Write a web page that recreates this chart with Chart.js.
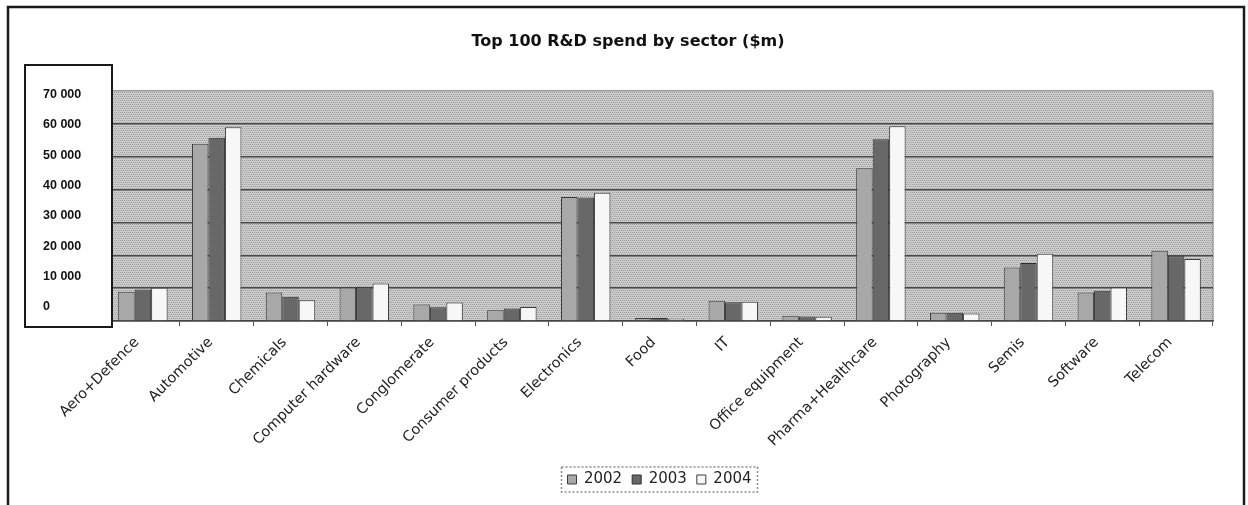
<!DOCTYPE html>
<html>
<head>
<meta charset="utf-8">
<title>Top 100 R&amp;D spend by sector</title>
<script src="https://cdn.jsdelivr.net/npm/chart.js"></script>
<style>
  html, body { margin: 0; padding: 0; background: #fff; }
  canvas { display: block; }
</style>
</head>
<body>
<canvas id="bar-chart" width="1248" height="505"></canvas>
<script>
// sectors and yearly R&D spend, $m
var sectors = ["Aero+Defence", "Automotive", "Chemicals", "Computer hardware", "Conglomerate",
  "Consumer products", "Electronics", "Food", "IT", "Office equipment", "Pharma+Healthcare",
  "Photography", "Semis", "Software", "Telecom"];
var years = ["2002", "2003", "2004"];
var spend2002 = [8900, 54000, 8700, 10200, 5000, 3300, 37800, 900, 6200, 1600, 46500, 2500, 16300, 8700, 21400];
var spend2003 = [9600, 55800, 7400, 10400, 4200, 3800, 37600, 900, 5700, 1400, 55400, 2500, 17700, 9200, 19700];
var spend2004 = [10100, 59000, 6300, 11400, 5600, 4300, 39100, 700, 5900, 1300, 59300, 2300, 20500, 10200, 18900];
var yTicks = [0, 10000, 20000, 30000, 40000, 50000, 60000, 70000];
var yTickLabels = ["0", "10 000", "20 000", "30 000", "40 000", "50 000", "60 000", "70 000"];

// dotted grey fill for the plot area
function dotPattern(ctx) {
  var c = document.createElement("canvas");
  c.width = 4; c.height = 4;
  var p = c.getContext("2d");
  p.fillStyle = "#cbcbcb";
  p.fillRect(0, 0, 4, 4);
  p.fillStyle = "#9e9e9e";
  p.fillRect(0, 0, 1, 1); p.fillRect(2, 0, 1, 1);
  p.fillRect(1, 2, 1, 1); p.fillRect(3, 2, 1, 1);
  return ctx.createPattern(c, "repeat");
}

var decor = {
  id: "decor",
  beforeDraw: function(chart) {
    var ctx = chart.ctx, a = chart.chartArea;
    ctx.save();
    ctx.fillStyle = "#fff";
    ctx.fillRect(0, 0, chart.width, chart.height);
    ctx.fillStyle = dotPattern(ctx);
    ctx.fillRect(a.left, a.top, a.right - a.left, a.bottom - a.top);
    ctx.strokeStyle = "#9a9a9a";
    ctx.lineWidth = 1.5;
    ctx.beginPath();
    ctx.moveTo(a.right, a.top);
    ctx.lineTo(a.right, a.bottom);
    ctx.stroke();
    ctx.restore();
  },
  afterDatasetsDraw: function(chart) {
    // white panel holding the value labels
    var ctx = chart.ctx;
    ctx.save();
    ctx.fillStyle = "#fff";
    ctx.fillRect(25, 65, 87, 262);
    ctx.strokeStyle = "#1a1a1a";
    ctx.lineWidth = 2;
    ctx.strokeRect(25, 65, 87, 262);
    ctx.restore();
  },
  afterDraw: function(chart) {
    var ctx = chart.ctx;
    ctx.save();
    // outer frame
    ctx.strokeStyle = "#1a1a1a";
    ctx.lineWidth = 2.5;
    ctx.strokeRect(8, 7, 1236, 520);
    // dashed legend border
    var hb = chart.legend.legendHitBoxes;
    if (hb && hb.length) {
      var first = hb[0], last = hb[hb.length - 1];
      var cy = first.top + first.height / 2;
      ctx.setLineDash([2, 2]);
      ctx.strokeStyle = "#8a8a8a";
      ctx.lineWidth = 1.5;
      ctx.strokeRect(first.left - 6, cy - 12.5, last.left + last.width - first.left + 12, 25);
    }
    ctx.restore();
  }
};

new Chart(document.getElementById("bar-chart"), {
  type: "bar",
  data: {
    labels: sectors,
    datasets: [
      { label: years[0], data: spend2002, backgroundColor: "#a8a8a8", borderColor: "#3c3c3c", borderWidth: 1 },
      { label: years[1], data: spend2003, backgroundColor: "#686868", borderColor: "#2e2e2e", borderWidth: 1 },
      { label: years[2], data: spend2004, backgroundColor: "#f7f7f7", borderColor: "#3c3c3c", borderWidth: 1 }
    ]
  },
  plugins: [decor],
  options: {
    responsive: false,
    animation: false,
    layout: { padding: { top: 0, left: 43, right: 35, bottom: 8 } },
    datasets: { bar: { categoryPercentage: 0.67, barPercentage: 1.0 } },
    plugins: {
      title: {
        display: true,
        text: "Top 100 R&D spend by sector ($m)",
        color: "#111",
        font: { family: "DejaVu Sans", size: 16, weight: "bold" },
        padding: { top: 32, bottom: 40 }
      },
      legend: {
        position: "bottom",
        fullSize: false,
        labels: {
          boxWidth: 9, boxHeight: 9, padding: 10, color: "#222",
          font: { family: "DejaVu Sans", size: 15 }
        }
      },
      tooltip: { enabled: false }
    },
    scales: {
      x: {
        grid: { drawOnChartArea: false, drawTicks: true, tickLength: 5, color: "#555", offset: true },
        border: { color: "#444", width: 1.5 },
        ticks: {
          color: "#222", maxRotation: 45, minRotation: 45, padding: 8, labelOffset: -6,
          autoSkip: false, font: { family: "DejaVu Sans", size: 14.5 }
        },
        afterFit: function(s) { s.height = 141; }
      },
      y: {
        min: 0, max: 70000,
        weight: 0,
        border: { display: false },
        grid: {
          drawTicks: false,
          lineWidth: 1.5,
          color: function(c) { return c.tick && c.tick.value === 70000 ? "#9a9a9a" : "#4a4a4a"; }
        },
        ticks: { display: false, stepSize: 10000 },
        afterFit: function(s) { s.width = 0; }
      },
      yl: {
        type: "linear",
        position: "left",
        weight: 1,
        min: -4600, max: 71080,
        border: { display: false },
        grid: { display: false, drawTicks: false },
        afterBuildTicks: function(s) { s.ticks = yTicks.map(function(v) { return { value: v }; }); },
        ticks: {
          z: 1,
          crossAlign: "far",
          color: "#111",
          font: { family: "Liberation Sans", size: 12.5, weight: "bold" },
          callback: function(v) { return yTickLabels[yTicks.indexOf(v)]; }
        },
        afterFit: function(s) { s.width = 63; }
      }
    }
  }
});
</script>
</body>
</html>
